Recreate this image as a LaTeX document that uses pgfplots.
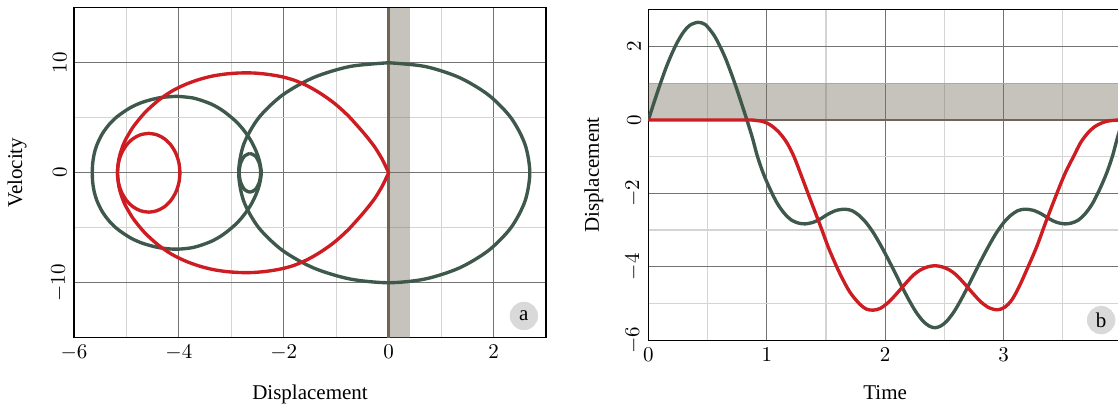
\documentclass[border=0pt]{standalone}
\usepackage{fontspec}
\setmainfont{Liberation Serif}
\usepackage{pgfplots}
\pgfplotsset{compat=1.18}

\definecolor{trajgreen}{RGB}{62,88,76}
\definecolor{trajred}{RGB}{205,28,34}
\definecolor{bandtone}{RGB}{120,110,95}
\definecolor{zeroline}{RGB}{112,100,86}
\definecolor{badgegray}{RGB}{217,217,217}

\tikzset{
  badge/.style={circle, fill=badgegray, minimum size=13.5pt, inner sep=0pt},
  traj/.style={line width=1.6pt, smooth, mark=none},
}

\pgfplotsset{
  panel/.style={
    scale only axis,
    axis line style={black, line width=0.6pt},
    tick style={draw=none},
    grid=both,
    major grid style={draw=black!55, line width=0.4pt},
    minor grid style={draw=black!17, line width=0.6pt},
    yticklabel style={rotate=90},
    every axis plot/.append style={line join=round},
  },
}

\begin{document}
\begin{tikzpicture}

% ---------- phase plane ----------
\begin{axis}[panel,
  at={(0pt,0pt)}, anchor=south west,
  width=224.8pt, height=157.1pt,
  xmin=-6, xmax=3, ymin=-15, ymax=15,
  xtick={-6,-4,-2,0,2}, minor xtick={-5,-3,-1,1},
  ytick={-10,0,10}, minor ytick={-5,5},
  xlabel={Displacement}, ylabel={Velocity},
  xlabel shift=4.8pt, ylabel shift=4.8pt,
]
  \addplot[draw=none, fill=bandtone, fill opacity=0.42]
    coordinates {(0,-15) (0.41,-15) (0.41,15) (0,15)} -- cycle;
  \addplot[zeroline, line width=1.4pt] coordinates {(0,-15) (0,15)};

  % outer orbit
  \addplot[traj, trajgreen] coordinates {
    (0,10) (0.696,9.659) (1.345,8.660) (1.902,7.071) (2.330,5.0) (2.598,2.588)
    (2.69,0) (2.598,-2.588) (2.330,-5.0) (1.902,-7.071) (1.345,-8.660) (0.696,-9.659)
    (0,-10) (-0.740,-9.659) (-1.430,-8.660) (-2.022,-7.071) (-2.477,-5.0) (-2.763,-2.588)
    (-2.86,0) (-2.763,2.588) (-2.477,5.0) (-2.022,7.071) (-1.430,8.660) (-0.740,9.659) (0,10)
  };
  % small loop
  \addplot[traj, trajgreen] coordinates {
    (-2.645,1.76) (-2.5425,1.524) (-2.467,0.88) (-2.44,0) (-2.467,-0.88)
    (-2.5425,-1.524) (-2.645,-1.76) (-2.7475,-1.524) (-2.8225,-0.88) (-2.85,0)
    (-2.8225,0.88) (-2.7475,1.524) (-2.645,1.76)
  };
  % left loop
  \addplot[traj, trajgreen] coordinates {
    (-4.04,6.95) (-3.718,6.785) (-3.396,6.271) (-3.155,5.62) (-2.913,4.672)
    (-2.752,3.804) (-2.623,2.886) (-2.527,1.954) (-2.470,1.183) (-2.438,0.459) (-2.43,0)
    (-2.438,-0.459) (-2.470,-1.183) (-2.527,-1.954) (-2.623,-2.886) (-2.752,-3.804)
    (-2.913,-4.672) (-3.155,-5.62) (-3.396,-6.271) (-3.718,-6.785) (-4.04,-6.95)
    (-4.362,-6.824) (-4.684,-6.426) (-4.926,-5.910) (-5.167,-5.134) (-5.328,-4.391)
    (-5.457,-3.556) (-5.553,-2.640) (-5.610,-1.794) (-5.642,-0.875) (-5.65,0)
    (-5.642,0.875) (-5.610,1.794) (-5.553,2.640) (-5.457,3.556) (-5.328,4.391)
    (-5.167,5.134) (-4.926,5.910) (-4.684,6.426) (-4.362,6.824) (-4.04,6.95)
  };

  % teardrop orbit
  \addplot[traj, trajred] coordinates {
    (0,0) (-0.052,0.527) (-0.129,1.273) (-0.259,2.29) (-0.388,3.10) (-0.517,3.84)
    (-0.776,5.20) (-1.034,6.31) (-1.293,7.19) (-1.551,7.90) (-1.810,8.43)
    (-2.068,8.76) (-2.327,8.96) (-2.585,9.07) (-2.844,9.07) (-3.102,8.98)
    (-3.361,8.79) (-3.619,8.47) (-3.878,8.02) (-4.136,7.41) (-4.395,6.56)
    (-4.653,5.44) (-4.860,4.24) (-4.963,3.45) (-5.015,3.01) (-5.067,2.46)
    (-5.118,1.74) (-5.144,1.23) (-5.17,0)
    (-5.144,-1.23) (-5.118,-1.74) (-5.067,-2.46) (-5.015,-3.01) (-4.963,-3.45)
    (-4.860,-4.24) (-4.653,-5.44) (-4.395,-6.56) (-4.136,-7.41) (-3.878,-8.02)
    (-3.619,-8.47) (-3.361,-8.79) (-3.102,-8.98) (-2.844,-9.07) (-2.585,-9.07)
    (-2.327,-8.96) (-2.068,-8.76) (-1.810,-8.43) (-1.551,-7.90) (-1.293,-7.19)
    (-1.034,-6.31) (-0.776,-5.20) (-0.517,-3.84) (-0.388,-3.10) (-0.259,-2.29)
    (-0.129,-1.273) (-0.052,-0.527) (0,0)
  };
  % inner loop
  \addplot[traj, trajred] coordinates {
    (-4.575,3.58) (-4.421,3.458) (-4.2775,3.10) (-4.1543,2.531) (-4.0597,1.79)
    (-4.0003,0.927) (-3.98,0) (-4.0003,-0.927) (-4.0597,-1.79) (-4.1543,-2.531)
    (-4.2775,-3.10) (-4.421,-3.458) (-4.575,-3.58) (-4.729,-3.458) (-4.8725,-3.10)
    (-4.9957,-2.531) (-5.0903,-1.79) (-5.1497,-0.927) (-5.17,0) (-5.1497,0.927)
    (-5.0903,1.79) (-4.9957,2.531) (-4.8725,3.10) (-4.729,3.458) (-4.575,3.58)
  };

  \node[badge] at (rel axis cs:0.953,0.066) {a};
\end{axis}

% ---------- time histories ----------
\begin{axis}[panel,
  at={(273.5pt,-1.2pt)}, anchor=south west,
  width=225.5pt, height=157.3pt,
  xmin=0, xmax=4, ymin=-6, ymax=3,
  xtick={0,1,2,3}, minor xtick={0.5,1.5,2.5,3.5,4},
  ytick={-6,-4,-2,0,2}, minor ytick={-5,-3,-1,1},
  xlabel={Time}, ylabel={Displacement},
  xlabel shift=4.8pt, ylabel shift=3.8pt,
]
  \addplot[draw=none, fill=bandtone, fill opacity=0.42]
    coordinates {(0,0) (4,0) (4,1) (0,1)} -- cycle;
  \addplot[zeroline, line width=1.4pt] coordinates {(0,0) (4,0)};

  \addplot[traj, trajgreen] coordinates {
    (0,0) (0.05,0.50) (0.1,0.98) (0.15,1.43) (0.2,1.82) (0.25,2.15) (0.3,2.41)
    (0.35,2.58) (0.418,2.66) (0.48,2.6) (0.55,2.33) (0.6,2.04) (0.65,1.69)
    (0.7,1.27) (0.75,0.81) (0.8,0.32) (0.84,-0.08) (0.88,-0.5) (0.92,-0.98)
    (0.97,-1.45) (1.03,-1.9) (1.09,-2.28) (1.15,-2.55) (1.21,-2.73) (1.27,-2.81)
    (1.325,-2.83) (1.39,-2.79) (1.45,-2.70) (1.52,-2.56) (1.59,-2.46) (1.66,-2.43)
    (1.72,-2.47) (1.78,-2.6) (1.84,-2.8) (1.90,-3.07) (1.96,-3.4) (2.02,-3.76)
    (2.08,-4.14) (2.14,-4.53) (2.20,-4.9) (2.26,-5.23) (2.32,-5.48) (2.37,-5.61)
    (2.42,-5.66) (2.47,-5.61) (2.52,-5.48) (2.58,-5.23) (2.64,-4.9) (2.70,-4.53)
    (2.76,-4.14) (2.82,-3.76) (2.88,-3.4) (2.94,-3.07) (3.00,-2.8) (3.06,-2.6)
    (3.12,-2.47) (3.18,-2.43) (3.25,-2.46) (3.32,-2.56) (3.39,-2.70) (3.45,-2.79)
    (3.515,-2.83) (3.57,-2.81) (3.63,-2.73) (3.69,-2.55) (3.75,-2.28) (3.81,-1.9)
    (3.87,-1.45) (3.92,-0.98) (3.96,-0.5) (4.0,-0.08) (4.04,0.32) (4.09,0.81)
  };
  \addplot[traj, trajred] coordinates {
    (0,0) (0.5,0) (0.85,0) (0.9,-0.01) (0.95,-0.03) (1.0,-0.08) (1.05,-0.18)
    (1.11,-0.36) (1.17,-0.62) (1.23,-1.0) (1.29,-1.5) (1.36,-2.1) (1.45,-2.86)
    (1.53,-3.55) (1.62,-4.2) (1.70,-4.68) (1.78,-5.0) (1.84,-5.15) (1.90,-5.18)
    (1.96,-5.13) (2.03,-4.96) (2.10,-4.72) (2.17,-4.46) (2.24,-4.22) (2.30,-4.08)
    (2.36,-4.0) (2.42,-3.97) (2.48,-4.0) (2.54,-4.08) (2.60,-4.22) (2.67,-4.46)
    (2.74,-4.72) (2.81,-4.96) (2.88,-5.12) (2.95,-5.17) (3.01,-5.1) (3.07,-4.9)
    (3.13,-4.55) (3.20,-4.05) (3.28,-3.45) (3.36,-2.75) (3.45,-2.0) (3.52,-1.45)
    (3.59,-1.0) (3.65,-0.62) (3.71,-0.36) (3.77,-0.18) (3.83,-0.08) (3.88,-0.03)
    (3.93,-0.01) (3.98,0) (4.1,0)
  };

  \node[badge] at (rel axis cs:0.956,0.061) {b};
\end{axis}

\pgfresetboundingbox
\path (-35.2pt,-33.5pt) rectangle (497.1pt,160.8pt);
\end{tikzpicture}
\end{document}
